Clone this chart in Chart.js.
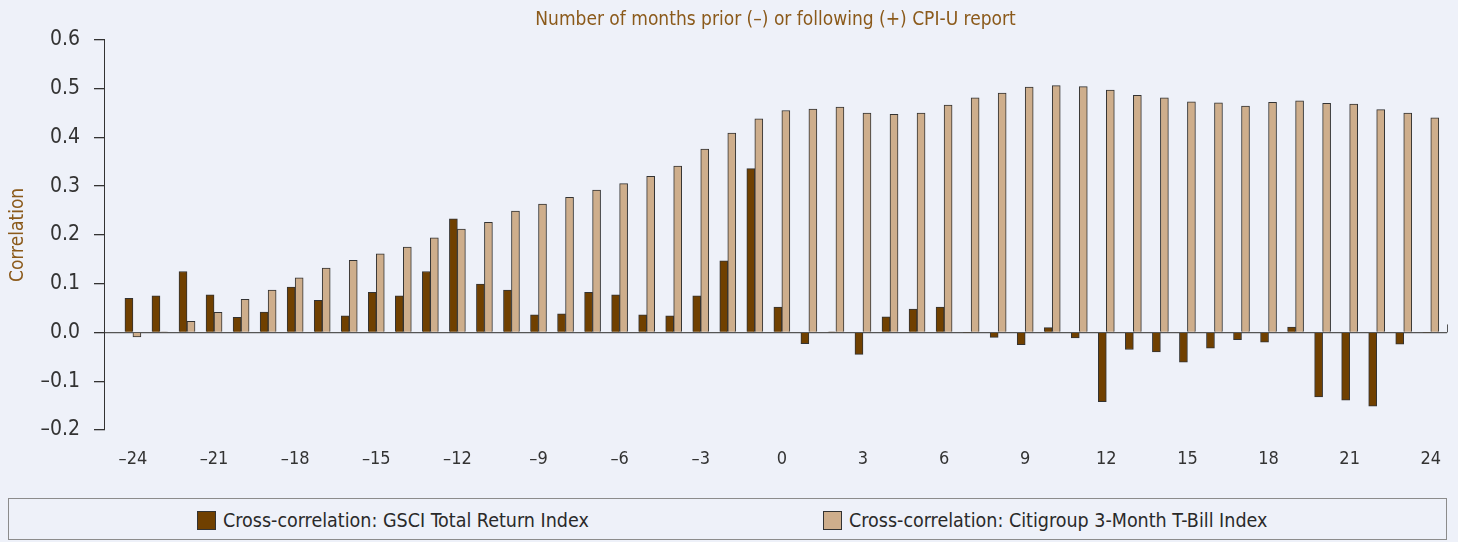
<!DOCTYPE html>
<html>
<head>
<meta charset="utf-8">
<script src="https://cdn.jsdelivr.net/npm/chart.js@4/dist/chart.umd.min.js"></script>
<style>
  html, body { margin: 0; padding: 0; background: #eef1f9; }
  #wrap { position: relative; width: 1458px; height: 542px; }
  #legend {
    position: absolute; left: 8px; top: 498px; width: 1437px; height: 40px;
    border: 1px solid #8c8c8c; box-sizing: content-box;
    font-family: "Liberation Sans Narrow", "DejaVu Sans Condensed", sans-serif;
    font-size: 19.5px; color: #2a2a2a;
  }
  .item { position: absolute; top: 10px; display: flex; align-items: center; height: 22px; }
  .swatch { width: 17px; height: 17px; border: 1px solid #333; margin-right: 7px; }
</style>
</head>
<body>
<div id="wrap">
  <canvas id="myChart" width="1458" height="490"></canvas>
  <div id="legend"></div>
</div>
<script>
// Months relative to the CPI-U report
const months = [];
for (let m = -24; m <= 24; m++) months.push(m);

// Cross-correlation: GSCI Total Return Index
const gsci = [
  0.070, 0.075, 0.125, 0.077, 0.031, 0.042, 0.093, 0.066, 0.034, 0.082,
  0.075, 0.125, 0.233, 0.099, 0.087, 0.036, 0.038, 0.082, 0.077, 0.036,
  0.034, 0.075, 0.147, 0.336, 0.052, -0.023, 0.001, -0.045, 0.032, 0.048,
  0.052, -0.001, -0.010, -0.025, 0.010, -0.011, -0.142, -0.035, -0.040, -0.061,
  -0.032, -0.015, -0.020, 0.011, -0.132, -0.139, -0.151, -0.024, -0.001
];

// Cross-correlation: Citigroup 3-Month T-Bill Index
const tbill = [
  -0.009, 0.001, 0.023, 0.041, 0.068, 0.087, 0.112, 0.132, 0.148, 0.161,
  0.175, 0.194, 0.212, 0.226, 0.249, 0.263, 0.277, 0.292, 0.305, 0.320,
  0.341, 0.376, 0.409, 0.438, 0.455, 0.458, 0.462, 0.450, 0.447, 0.450,
  0.466, 0.481, 0.491, 0.503, 0.506, 0.504, 0.497, 0.486, 0.481, 0.473,
  0.471, 0.464, 0.472, 0.475, 0.470, 0.468, 0.457, 0.450, 0.440
];

const seriesLabels = [
  'Cross-correlation: GSCI Total Return Index',
  'Cross-correlation: Citigroup 3-Month T-Bill Index'
];
const seriesColors = ['#704000', '#ceae8c'];

const yTicks = [-0.2, -0.1, 0.0, 0.1, 0.2, 0.3, 0.4, 0.5, 0.6];

const font = '"Liberation Sans Narrow", "DejaVu Sans Condensed", sans-serif';
const brown = '#8b5a1b';
const dash = v => String(v).replace('-', '\u2013');

// small upright tick at the right end of the zero line
const endTick = {
  id: 'endTick',
  afterDraw(chart) {
    const ctx = chart.ctx;
    const y0 = chart.scales.y.getPixelForValue(0);
    const x = chart.chartArea.right;
    ctx.save();
    ctx.strokeStyle = '#555';
    ctx.lineWidth = 1;
    ctx.beginPath();
    ctx.moveTo(x + 0.5, y0 - 8);
    ctx.lineTo(x + 0.5, y0);
    ctx.stroke();
    ctx.restore();
  }
};

const chartConfig = {
  type: 'bar',
  data: {
    datasets: [gsci, tbill].map((vals, i) => ({
      label: seriesLabels[i],
      data: months.map((m, j) => ({ x: m, y: vals[j] })),
      backgroundColor: seriesColors[i],
      borderColor: '#333',
      borderWidth: 1,
      barThickness: 8
    }))
  },
  options: {
    responsive: false,
    animation: false,
    devicePixelRatio: 1,
    layout: { padding: { left: 0, right: 11, top: 0, bottom: 0 } },
    plugins: {
      legend: { display: false },
      tooltip: { enabled: false },
      title: {
        display: true,
        fullSize: false,
        text: 'Number of months prior (\u2013) or following (+) CPI-U report',
        color: brown,
        font: { family: font, size: 19, weight: 'normal' },
        padding: { top: 9, bottom: 8 }
      }
    },
    scales: {
      x: {
        type: 'linear',
        offset: false,
        min: -25.07,
        max: 24.6,
        grid: { display: false },
        border: { display: false },
        ticks: {
          stepSize: 3,
          includeBounds: false,
          autoSkip: false,
          maxRotation: 0,
          padding: 11,
          color: '#333',
          font: { family: font, size: 18 },
          callback: v => dash(v)
        },
        afterFit: s => { s.height = 60; }
      },
      y: {
        min: -0.2,
        max: 0.6,
        border: { color: '#333', width: 1 },
        grid: {
          color: c => (c.tick && Math.abs(c.tick.value) < 1e-9) ? '#555' : 'rgba(0,0,0,0)',
          lineWidth: 1.3,
          tickColor: '#333',
          tickLength: 10
        },
        afterBuildTicks: s => { s.ticks = yTicks.map(v => ({ value: v })); },
        ticks: {
          padding: 14,
          color: '#333',
          font: { family: font, size: 21 },
          callback: v => dash(v.toFixed(1))
        },
        title: {
          display: true,
          text: 'Correlation',
          color: brown,
          font: { family: font, size: 19 },
          padding: { top: 7, bottom: 0 }
        },
        afterFit: s => { s.width = 104; }
      }
    }
  },
  plugins: [endTick]
};

const ctx = document.getElementById('myChart').getContext('2d');
const myChart = new Chart(ctx, chartConfig);

// HTML legend in a box, built from the datasets
const legendLeft = [188, 814];
const legendEl = document.getElementById('legend');
myChart.data.datasets.forEach((ds, i) => {
  const item = document.createElement('div');
  item.className = 'item';
  item.style.left = legendLeft[i] + 'px';
  const sw = document.createElement('span');
  sw.className = 'swatch';
  sw.style.background = ds.backgroundColor;
  const tx = document.createElement('span');
  tx.textContent = ds.label;
  item.appendChild(sw);
  item.appendChild(tx);
  legendEl.appendChild(item);
});
</script>
</body>
</html>
